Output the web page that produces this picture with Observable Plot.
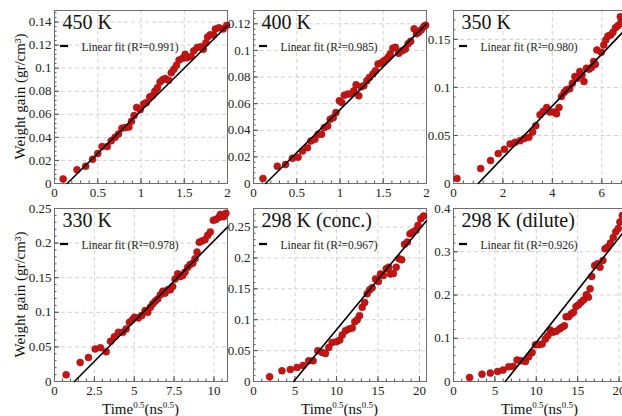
<!DOCTYPE html>
<html><head><meta charset="utf-8">
<script src="https://cdn.jsdelivr.net/npm/d3@7"></script>
<script src="https://cdn.jsdelivr.net/npm/@observablehq/plot@0.6"></script>
<style>
html,body{margin:0;padding:0;background:#fff;}
#chart{position:relative;width:622px;height:416px;overflow:hidden;background:#fff;font-family:'Liberation Serif',serif;}
#chart svg{position:absolute;}
#chart svg text, #chart svg tspan{font-family:'Liberation Serif',serif !important;}
</style></head><body><div id="chart"></div>
<script>
// ---- data ----
const titles = ["450 K", "400 K", "350 K", "330 K", "298 K (conc.)", "298 K (dilute)"];
const r2 = ["0.991", "0.985", "0.980", "0.978", "0.967", "0.926"];

const t450 = [0.10,0.26,0.36,0.44,0.50,0.55,0.61,0.655,0.70,0.74,0.78,0.82,0.86,0.89,0.92,0.95,0.99,1.03,1.06,1.10,1.13,1.16,1.19,1.22,1.25,1.28,1.32,1.35,1.38,1.41,1.44,1.48,1.51,1.53,1.58,1.61,1.65,1.69,1.72,1.75,1.77,1.80,1.84,1.86,1.90,1.95,1.99];
const w450 = [0.004,0.012,0.015,0.021,0.026,0.032,0.032,0.037,0.040,0.043,0.048,0.0485,0.049,0.054,0.059,0.066,0.064,0.069,0.070,0.075,0.076,0.080,0.083,0.088,0.090,0.091,0.0895,0.096,0.099,0.1025,0.107,0.1085,0.112,0.109,0.110,0.115,0.118,0.1186,0.1164,0.122,0.127,0.129,0.1287,0.134,0.135,0.134,0.137];

const t400 = [0.11,0.275,0.37,0.45,0.515,0.566,0.624,0.663,0.709,0.748,0.787,0.818,0.857,0.887,0.922,0.953,0.992,1.02,1.05,1.09,1.128,1.16,1.186,1.217,1.244,1.275,1.31,1.34,1.38,1.41,1.44,1.47,1.50,1.523,1.555,1.58,1.61,1.64,1.678,1.717,1.756,1.787,1.817,1.857,1.884,1.91,1.94,1.97,1.99];
const w400 = [0.0038,0.013,0.0143,0.0189,0.0198,0.0244,0.0269,0.0319,0.0332,0.037,0.037,0.042,0.0432,0.0483,0.0495,0.0533,0.0621,0.0608,0.0664,0.0672,0.0672,0.0697,0.0742,0.0659,0.0727,0.0735,0.0772,0.0797,0.0823,0.0848,0.0898,0.0903,0.0918,0.0928,0.0948,0.0974,0.1016,0.1023,0.0978,0.0998,0.101,0.105,0.1069,0.1162,0.1125,0.1137,0.1155,0.118,0.119];

const t350 = [0.14,1.10,1.50,1.81,2.06,2.29,2.49,2.69,2.86,3.05,3.20,3.33,3.50,3.63,3.77,3.90,4.06,4.17,4.27,4.37,4.48,4.57,4.70,4.81,4.91,5.01,5.11,5.20,5.28,5.38,5.48,5.58,5.67,5.74,5.80,5.98,6.08,6.16,6.25,6.36,6.45,6.55,6.65,6.75,6.76];
const w350 = [0.0052,0.0156,0.0239,0.0311,0.0356,0.0411,0.0428,0.0446,0.0467,0.048,0.0535,0.0602,0.0716,0.075,0.0791,0.0743,0.0743,0.0726,0.0791,0.0906,0.095,0.0975,0.0985,0.1044,0.1113,0.1096,0.1165,0.113,0.1061,0.12,0.119,0.1207,0.127,0.124,0.139,0.1366,0.1442,0.1494,0.1535,0.1546,0.1573,0.162,0.1642,0.1735,0.167];

const t330 = [0.73,1.61,2.13,2.55,2.88,3.24,3.51,3.76,4.01,4.28,4.49,4.70,4.87,5.01,5.26,5.47,5.68,5.85,6.01,6.16,6.31,6.47,6.64,6.79,6.93,7.10,7.26,7.41,7.56,7.73,7.89,8.04,8.18,8.35,8.50,8.67,8.81,8.94,9.08,9.25,9.44,9.61,9.77,9.96,10.12,10.3,10.4,10.6,10.75];
const w330 = [0.0097,0.0275,0.0348,0.047,0.0488,0.043,0.058,0.0648,0.071,0.071,0.0759,0.0855,0.089,0.0928,0.0919,0.0952,0.1025,0.100,0.1072,0.1122,0.116,0.1194,0.1252,0.1304,0.1275,0.1325,0.1325,0.1372,0.148,0.1556,0.1517,0.1532,0.158,0.165,0.169,0.171,0.1774,0.187,0.2014,0.203,0.205,0.2112,0.216,0.233,0.234,0.237,0.2415,0.238,0.243];

const t298c = [1.94,3.43,4.44,5.24,5.97,6.65,7.18,7.74,8.27,8.67,9.07,9.48,10.0,10.4,10.69,11.09,11.49,11.9,12.21,12.5,12.78,13.1,13.4,13.7,14.0,14.3,14.7,15.05,15.3,15.65,16.0,16.3,16.5,16.86,17.2,17.54,17.86,18.2,18.55,18.86,19.2,19.56,19.83,20.16,20.5];
const w298c = [0.0076,0.0174,0.0195,0.0227,0.026,0.0336,0.0336,0.0498,0.047,0.0454,0.0552,0.0633,0.0644,0.0672,0.0753,0.0823,0.085,0.0866,0.0969,0.1001,0.1066,0.120,0.128,0.1419,0.1484,0.1516,0.166,0.162,0.174,0.1716,0.1825,0.185,0.174,0.175,0.185,0.1987,0.197,0.222,0.2257,0.239,0.242,0.2446,0.2528,0.2636,0.268];

const t298d = [1.94,3.44,4.45,5.33,5.98,6.67,7.2,7.68,8.2,8.69,9.09,9.5,9.9,10.3,10.7,11.1,11.4,11.7,12.0,12.4,12.8,13.1,13.4,13.6,13.9,14.2,14.5,14.8,15.1,15.4,15.7,16.05,16.3,16.5,16.7,17.05,17.4,17.7,18.05,18.3,18.6,18.95,19.3,19.6,19.9,20.1,20.4];
const w298d = [0.0093,0.017,0.0195,0.0232,0.0264,0.034,0.0348,0.0496,0.048,0.0464,0.0573,0.0673,0.085,0.085,0.0867,0.098,0.106,0.119,0.1137,0.116,0.1216,0.1253,0.129,0.150,0.150,0.156,0.160,0.1733,0.1772,0.183,0.1887,0.2003,0.195,0.2144,0.243,0.268,0.272,0.264,0.28,0.307,0.311,0.320,0.333,0.346,0.354,0.369,0.384];

// linear-fit end points (x, y)
const fitT = [[0.147,2],[0.14,2],[1.0,7],[1.25,10.85],[4.84,20.85],[6.26,20.9]];
const fitW = [[0,0.137],[0,0.12],[0,0.1615],[0,0.223],[0,0.26],[0,0.354]];

// axis ticks and domains
const xTicks = [[0,0.5,1,1.5,2],[0,0.5,1,1.5,2],[0,2,4,6],[0,2.5,5,7.5,10],[0,5,10,15,20],[0,5,10,15,20]];
const yTicks = [[0,0.02,0.04,0.06,0.08,0.1,0.12,0.14],[0,0.02,0.04,0.06,0.08,0.1,0.12],[0,0.05,0.1,0.15],[0,0.05,0.1,0.15,0.2,0.25],[0,0.05,0.1,0.15,0.2,0.25],[0,0.1,0.2,0.3,0.4]];
const xDomains = [[0,2],[0,2],[0,7],[0,10.85],[0,20.85],[0,20.9]];
const yDomains = [[0,0.15],[0,0.13],[0,0.18],[0,0.25],[0,0.28],[0,0.4]];

const xs = [t450, t400, t350, t330, t298c, t298d];
const ys = [w450, w400, w350, w330, w298c, w298d];

// ---- layout ----
const FW = 173, FH = 173, ML = 54, MT = 10, MR = 8, MB = 36;
const frameLefts = [54, 253, 453];
const frameTops = [10, 208];
const FONT = "'Liberation Serif', serif";
const fmt = d => String(+d.toFixed(6));
const chart = document.getElementById("chart");

function panel(i) {
  const col = i % 3, row = Math.floor(i / 3);
  const pts = xs[i].map((x, k) => ({x, y: ys[i][k]}));
  const fit = fitT[i].map((x, k) => ({x, y: fitW[i][k]}));
  const [x0, x1] = xDomains[i], [y0, y1] = yDomains[i];
  const xt = xTicks[i], yt = yTicks[i];
  const xStep = xt[1] - xt[0], yStep = yt[1] - yt[0];
  const xMinor = d3.range(0, Math.round(x1 / (xStep / 5)) + 1).map(k => k * xStep / 5).filter(v => v <= x1 + 1e-9);
  const yMinor = d3.range(0, Math.round(y1 / (yStep / 5)) + 1).map(k => k * yStep / 5).filter(v => v <= y1 + 1e-9);
  const lx = (len) => (x1 - x0) * len / FW;
  const ly = (len) => (y1 - y0) * len / FH;
  const tickColor = "#555";
  const svg = Plot.plot({
    width: ML + FW + MR,
    height: MT + FH + MB,
    marginLeft: ML, marginRight: MR, marginTop: MT, marginBottom: MB,
    style: {background: "transparent", fontFamily: FONT, fontSize: "12.5px", color: "#222", overflow: "visible"},
    x: {domain: [x0, x1]},
    y: {domain: [y0, y1]},
    marks: [
      Plot.gridX(xt, {stroke: "#d2d2d2", strokeOpacity: 1, strokeDasharray: "4,3"}),
      Plot.gridY(yt, {stroke: "#d2d2d2", strokeOpacity: 1, strokeDasharray: "4,3"}),
      Plot.ruleX(xMinor, {x: d => d, y1: () => y0, y2: () => y0 + ly(2.5), stroke: tickColor}),
      Plot.ruleX(xt, {x: d => d, y1: () => y0, y2: () => y0 + ly(5), stroke: tickColor}),
      Plot.ruleY(yMinor, {y: d => d, x1: () => x0, x2: () => x0 + lx(2.5), stroke: tickColor}),
      Plot.ruleY(yt, {y: d => d, x1: () => x0, x2: () => x0 + lx(5), stroke: tickColor}),
      Plot.axisX(xt, {tickSize: 0, tickPadding: 4, tickFormat: fmt, label: null, fontSize: 13, fill: "#222"}),
      Plot.axisY(yt, {tickSize: 0, tickPadding: 3, tickFormat: fmt, label: null, fontSize: 13, fill: "#222"}),
      Plot.frame({stroke: "#6e6e6e"}),
      Plot.dot(pts, {x: "x", y: "y", r: 3.5, fill: "#c41414", stroke: "#9e0b0b", strokeWidth: 0.5}),
      Plot.line(fit, {x: "x", y: "y", stroke: "#000", strokeWidth: 1.6}),
      Plot.text([titles[i]], {text: d => d, frameAnchor: "top-left", dx: 8, dy: 18.5, textAnchor: "start", lineAnchor: "bottom", fontSize: 20, fill: "#111"}),
      Plot.text([r2[i]], {text: d => `Linear fit (R²=${d})`, frameAnchor: "top-left", dx: 27, dy: 40, textAnchor: "start", lineAnchor: "bottom", fontSize: 11.5, fill: "#222"})
    ]
  });
  const s = d3.select(svg);
  // legend line glyph
  s.append("line").attr("x1", ML + 6).attr("x2", ML + 14).attr("y1", MT + 36).attr("y2", MT + 36)
    .attr("stroke", "#000").attr("stroke-width", 2.2);
  if (col === 0) {
    s.append("text")
      .attr("transform", `translate(25,${MT + FH / 2}) rotate(-90)`)
      .attr("text-anchor", "middle").attr("font-size", 15).attr("fill", "#111")
      .text("Weight gain (gr/cm³)");
  }
  if (row === 1) {
    const t = s.append("text").attr("x", ML + FW / 2).attr("y", MT + FH + 33)
      .attr("text-anchor", "middle").attr("font-size", 15).attr("fill", "#111");
    t.append("tspan").text("Time");
    t.append("tspan").attr("dy", -6).attr("font-size", 9).text("0.5");
    t.append("tspan").attr("dy", 6).text("(ns");
    t.append("tspan").attr("dy", -6).attr("font-size", 9).text("0.5");
    t.append("tspan").attr("dy", 6).text(")");
  }
  svg.style.left = (frameLefts[col] - ML) + "px";
  svg.style.top = (frameTops[row] - MT) + "px";
  svg.style.maxWidth = "none";
  chart.appendChild(svg);
}
for (let i = 0; i < 6; i++) panel(i);
</script></body></html>
